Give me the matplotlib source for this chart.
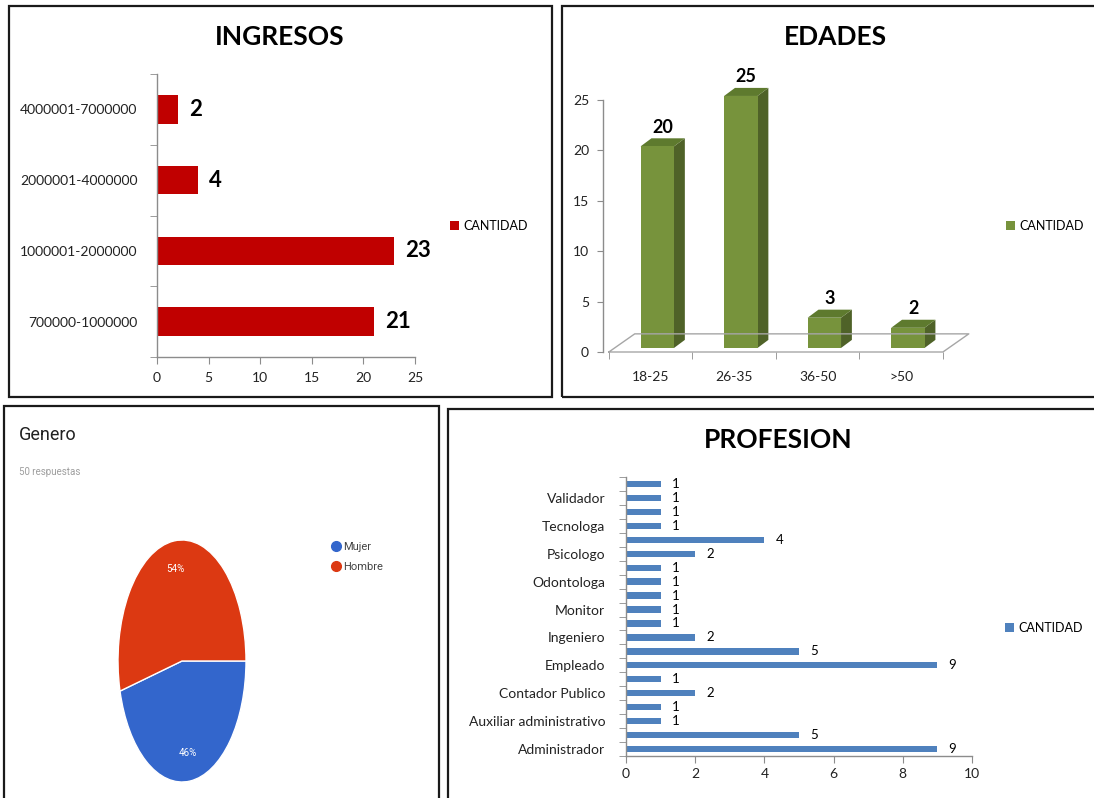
"""Encuesta: ingresos, edades, genero y profesion (four panels)."""

import matplotlib

matplotlib.use("Agg")
import matplotlib.pyplot as plt
from matplotlib.lines import Line2D
from matplotlib.patches import Polygon, Rectangle

W, H = 1094, 798

# ---- data -------------------------------------------------------------
ingresos_cats = ["700000-1000000", "1000001-2000000", "2000001-4000000", "4000001-7000000"]
ingresos_vals = [21, 23, 4, 2]

edades_cats = ["18-25", "26-35", "36-50", ">50"]
edades_vals = [20, 25, 3, 2]

genero_labels = ["Mujer", "Hombre"]
genero_pct = [46, 54]
genero_respuestas = 50

# bottom -> top; only every other bar carries a label in the original
profesion_labels = [
    "Administrador", "", "Auxiliar administrativo", "", "Contador Publico", "",
    "Empleado", "", "Ingeniero", "", "Monitor", "", "Odontologa", "",
    "Psicologo", "", "Tecnologa", "", "Validador", "",
]
profesion_vals = [9, 5, 1, 1, 2, 1, 9, 5, 2, 1, 1, 1, 1, 1, 2, 4, 1, 1, 1, 1]

EXCEL_FONT = "Lato"
AXIS_GRAY = "#8C8C8C"


def px_rect(x0, y0, x1, y1):
    """Pixel box (top-left origin) -> figure fraction rect."""
    return [x0 / W, 1 - y1 / H, (x1 - x0) / W, (y1 - y0) / H]


def fx(x):
    return x / W


def fy(y):
    return 1 - y / H


def style_excel_axes(ax):
    for side in ("top", "right"):
        ax.spines[side].set_visible(False)
    for side in ("left", "bottom"):
        ax.spines[side].set_color(AXIS_GRAY)
        ax.spines[side].set_linewidth(1.0)
    ax.tick_params(which="both", color=AXIS_GRAY, labelsize=10, labelcolor="#222222")
    ax.set_facecolor("none")


def excel_legend(color, x, y):
    handle = Rectangle((0, 0), 1, 1, facecolor=color, edgecolor="none")
    fig.legend([handle], ["CANTIDAD"], loc="center left", bbox_to_anchor=(fx(x), fy(y)),
               frameon=False, borderpad=0, borderaxespad=0, handlelength=0.75,
               handleheight=0.75, handletextpad=0.3, prop={"family": EXCEL_FONT, "size": 9})


fig = plt.figure(figsize=(W / 100, H / 100), dpi=100)
fig.patch.set_facecolor("white")

# panel frames
for x0, y0, x1, y1 in [(9, 6, 552, 397), (562, 6, 1110, 397), (4, 406, 439, 815), (448, 409, 1110, 815)]:
    fig.add_artist(Rectangle((fx(x0), fy(y1)), (x1 - x0) / W, (y1 - y0) / H,
                             transform=fig.transFigure, fill=False,
                             edgecolor="#1a1a1a", linewidth=1.6))

# ---- INGRESOS -----------------------------------------------------------
ax1 = fig.add_axes(px_rect(157, 74, 415, 357))
style_excel_axes(ax1)
ypos = range(len(ingresos_cats))
ax1.barh(ypos, ingresos_vals, height=0.4, color="#C00000")
ax1.set_xlim(0, 25)
ax1.set_ylim(-0.5, len(ingresos_cats) - 0.5)
ax1.set_xticks(range(0, 26, 5))
ax1.set_yticks(list(ypos))
ax1.set_yticklabels(ingresos_cats, fontfamily=EXCEL_FONT)
ax1.set_yticks([i - 0.5 for i in range(len(ingresos_cats) + 1)], minor=True)
ax1.tick_params(axis="y", which="major", length=0, pad=14)
ax1.tick_params(axis="y", which="minor", length=5)
ax1.tick_params(axis="x", length=5, pad=6)
for lab in ax1.get_xticklabels():
    lab.set_fontfamily(EXCEL_FONT)
for i, v in enumerate(ingresos_vals):
    ax1.annotate(str(v), (v, i), xytext=(8, 0), textcoords="offset points",
                 ha="left", va="center", fontsize=16, fontweight="bold",
                 fontfamily=EXCEL_FONT)
fig.text(fx(280), fy(37), "INGRESOS", ha="center", va="center", fontsize=19,
         fontweight="bold", fontfamily=EXCEL_FONT)
excel_legend("#C00000", 450, 226)

# ---- EDADES (3-D look) ---------------------------------------------------
ax2 = fig.add_axes(px_rect(603, 100, 978, 352))
style_excel_axes(ax2)
ax2.spines["bottom"].set_visible(False)
ax2.set_ylim(0, 25)
ax2.set_xlim(-0.57, 3.92)
depth = (0.31, 1.8)        # floor depth in data units
front_off = (0.08, 0.4)    # where the bar front sits inside the floor
bar_d = (0.13, 0.8)        # bar depth
bw = 0.4
n = len(edades_cats)
floor_x = [-0.5, n - 0.5, n - 0.5 + depth[0], -0.5 + depth[0], -0.5]
floor_y = [0, 0, depth[1], depth[1], 0]
ax2.plot(floor_x, floor_y, color="#A6A6A6", lw=1.0, clip_on=False)
for i, v in enumerate(edades_vals):
    x0 = i - bw / 2 + front_off[0]
    y0 = front_off[1]
    front = Rectangle((x0, y0), bw, v, facecolor="#77933C", edgecolor="none", clip_on=False)
    side = Polygon([(x0 + bw, y0), (x0 + bw + bar_d[0], y0 + bar_d[1]),
                    (x0 + bw + bar_d[0], y0 + v + bar_d[1]), (x0 + bw, y0 + v)],
                   closed=True, facecolor="#4F6228", edgecolor="none", clip_on=False)
    top = Polygon([(x0, y0 + v), (x0 + bw, y0 + v), (x0 + bw + bar_d[0], y0 + v + bar_d[1]),
                   (x0 + bar_d[0], y0 + v + bar_d[1])],
                  closed=True, facecolor="#5E7A2E", edgecolor="none", clip_on=False)
    for p in (side, top, front):
        ax2.add_patch(p)
    ax2.annotate(str(v), (x0 + (bw + bar_d[0]) / 2, y0 + v + bar_d[1]), xytext=(0, 2),
                 textcoords="offset points", ha="center", va="bottom", fontsize=13,
                 fontweight="bold", fontfamily=EXCEL_FONT, annotation_clip=False)
ax2.set_yticks(range(0, 26, 5))
ax2.set_xticks(range(n))
ax2.set_xticklabels(edades_cats, fontfamily=EXCEL_FONT)
ax2.set_xticks([i - 0.5 for i in range(n + 1)], minor=True)
ax2.tick_params(axis="x", which="major", length=0, pad=14)
ax2.tick_params(axis="x", which="minor", length=5)
ax2.tick_params(axis="y", length=4, pad=6)
for lab in ax2.get_yticklabels():
    lab.set_fontfamily(EXCEL_FONT)
fig.text(fx(835), fy(37), "EDADES", ha="center", va="center", fontsize=19,
         fontweight="bold", fontfamily=EXCEL_FONT)
excel_legend("#77933C", 1006, 226)

# ---- GENERO (Google Forms pie) ----------------------------------------------
fig.text(fx(19), fy(435), "Genero", ha="left", va="center", fontsize=13,
         color="#212121", fontfamily="Roboto")
fig.text(fx(19), fy(472), f"{genero_respuestas} respuestas", ha="left", va="center",
         fontsize=7, color="#9E9E9E", fontfamily="Roboto")
ax3 = fig.add_axes(px_rect(118, 540, 246, 782))
pie_colors = ["#3366CC", "#DC3912"]
ax3.pie(genero_pct, colors=pie_colors, startangle=0, counterclock=False,
        autopct="%1.0f%%", pctdistance=0.77,
        textprops={"color": "white", "fontsize": 7, "fontfamily": "Roboto"},
        wedgeprops={"edgecolor": "white", "linewidth": 1.0})
ax3.set_aspect("auto")
ax3.set_xlim(-1, 1)
ax3.set_ylim(-1, 1)
dots = [Line2D([], [], marker="o", ls="", color=c, markersize=7) for c in pie_colors]
fig.legend(dots, genero_labels, loc="upper left", bbox_to_anchor=(fx(332), fy(542)),
           frameon=False, borderpad=0, borderaxespad=0, handlelength=0.8,
           handletextpad=0.2, labelspacing=0.9,
           prop={"family": "Roboto", "size": 8}, labelcolor="#444444")

# ---- PROFESION -----------------------------------------------------------
ax4 = fig.add_axes(px_rect(626, 477, 972, 756))
style_excel_axes(ax4)
npro = len(profesion_vals)
ax4.barh(range(npro), profesion_vals, height=0.45, color="#4F81BD")
ax4.set_xlim(0, 10)
ax4.set_ylim(-0.5, npro - 0.5)
ax4.set_xticks(range(0, 11, 2))
ax4.set_yticks(range(npro))
ax4.set_yticklabels(profesion_labels, fontfamily=EXCEL_FONT)
ax4.set_yticks([i - 0.5 for i in range(npro + 1)], minor=True)
ax4.tick_params(axis="y", which="major", length=0, pad=15)
ax4.tick_params(axis="y", which="minor", length=5)
ax4.tick_params(axis="x", length=5)
for lab in ax4.get_xticklabels():
    lab.set_fontfamily(EXCEL_FONT)
for i, v in enumerate(profesion_vals):
    ax4.annotate(str(v), (v, i), xytext=(8, 0), textcoords="offset points",
                 ha="left", va="center", fontsize=9.5, fontfamily=EXCEL_FONT)
fig.text(fx(778), fy(440), "PROFESION", ha="center", va="center", fontsize=19,
         fontweight="bold", fontfamily=EXCEL_FONT)
excel_legend("#4F81BD", 1005, 628)

fig.savefig("out.png", dpi=100)
